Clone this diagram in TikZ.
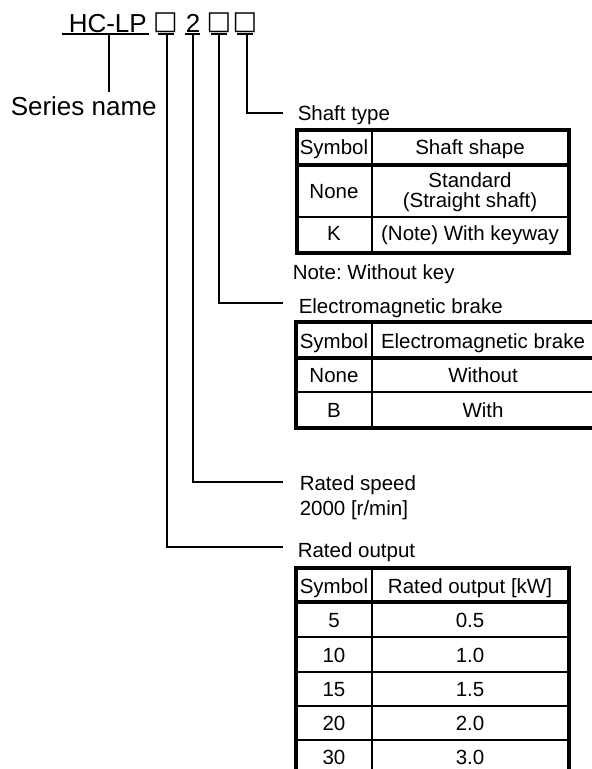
\documentclass[tikz,border=0pt]{standalone}
\usepackage{fontspec}
\setmainfont{Liberation Sans}
\newfontfamily\symfont{DejaVu Sans}
\frenchspacing
\begin{document}
\begin{tikzpicture}[x=1pt,y=-1pt,line width=1.5pt,
  txt/.style={anchor=base west,inner sep=0pt,font=\fontsize{20.5}{20}\selectfont},
  cell/.style={anchor=base,inner sep=0pt,align=center,font=\fontsize{20.5}{20}\selectfont},
  ttl/.style={anchor=base west,inner sep=0pt,font=\fontsize{26}{30}\selectfont},
  sq/.style={anchor=center,inner sep=0pt,font=\symfont\fontsize{26}{28}\selectfont},
  outer/.style={line width=4pt},
  inner/.style={line width=1.6pt},
  conn/.style={line width=1.5pt}]
\clip (0,0) rectangle (592,769);
\fill[white] (0,0) rectangle (592,769);

% title
\node[ttl] (hclp) at (68,32) {HC-LP};
\node[sq] (sqa) at (165.5,22.5) {□};
\node[ttl] (two) at (185,32) {2};
\node[sq] (sqb) at (219,22.5) {□};
\node[sq] (sqc) at (245,22.5) {□};

% underlines
\coordinate (ha) at (62,34); \coordinate (hb) at (149,34);
\coordinate (aa) at (158,34); \coordinate (ab) at (174,34);
\coordinate (ta) at (185,34); \coordinate (tb) at (200,34);
\coordinate (ba) at (211,34); \coordinate (bb) at (227,34);
\coordinate (ca) at (237,34); \coordinate (cb) at (253,34);
\draw[conn] (ha) -- (hb);
\draw[conn] (aa) -- (ab);
\draw[conn] (ta) -- (tb);
\draw[conn] (ba) -- (bb);
\draw[conn] (ca) -- (cb);

% connectors
\coordinate (s0) at (109,34); \coordinate (s1) at (109,92);
\coordinate (a0) at (167,34); \coordinate (a1) at (283,547);
\coordinate (t0) at (193,34); \coordinate (t1) at (283,482);
\coordinate (b0) at (219,34); \coordinate (b1) at (283,303);
\coordinate (c0) at (247,34); \coordinate (c1) at (283,113);
\draw[conn] (s0) -- (s1);
\draw[conn] (a0) |- (a1);
\draw[conn] (t0) |- (t1);
\draw[conn] (b0) |- (b1);
\draw[conn] (c0) |- (c1);

% labels
\node[ttl] (series) at (10,115) {Series name};
\node[txt] (shaft) at (297,120) {Shaft type};
\node[txt] (note) at (292,279) {Note: Without key};
\node[txt] (brake) at (298,313) {Electromagnetic brake};
\node[txt] (speed) at (299,490) {Rated speed};
\node[txt] (speedv) at (299,515) {2000 [r/min]};
\node[txt] (output) at (297,557) {Rated output};

% table 1: shaft
\draw[inner] (372,130) -- (372,253);
\draw[inner] (297,217) -- (569,217);
\draw[outer] (297,164.5) -- (569,164.5);
\draw[outer] (297,130) rectangle (569,253);
\node[cell] (t1h1) at (334,154.5) {Symbol};
\node[cell] (t1h2) at (470,154.5) {Shaft shape};
\node[cell] (t1r1a) at (334,198) {None};
\node[cell] (t1r1b) at (470,207) {Standard\\(Straight shaft)};
\node[cell] (t1r2a) at (334,240) {K};
\node[cell] (t1r2b) at (470,240) {(Note) With keyway};

% table 2: brake
\draw[inner] (372,322) -- (372,428);
\draw[inner] (296,392) -- (600,392);
\draw[outer] (296,358) -- (600,358);
\draw[outer] (296,322) rectangle (596,428);
\node[cell] (t2h1) at (334,348) {Symbol};
\node[cell] (t2h2) at (483,348) {Electromagnetic brake};
\node[cell] (t2r1a) at (334,382) {None};
\node[cell] (t2r1b) at (483,382) {Without};
\node[cell] (t2r2a) at (334,417) {B};
\node[cell] (t2r2b) at (483,417) {With};

% table 3: output
\draw[inner] (372,568) -- (372,780);
\foreach \yy in {637,672,706,740} \draw[inner] (296,\yy) -- (569,\yy);
\draw[outer] (296,601.5) -- (569,601.5);
\draw[outer] (296,780) -- (296,568) -- (569,568) -- (569,780);
\node[cell] (t3h1) at (334,593) {Symbol};
\node[cell] (t3h2) at (470,593) {Rated output [kW]};
\node[cell] (t3a1) at (334,627.5) {5};
\node[cell] (t3b1) at (470,627.5) {0.5};
\node[cell] (t3a2) at (334,662) {10};
\node[cell] (t3b2) at (470,662) {1.0};
\node[cell] (t3a3) at (334,696.5) {15};
\node[cell] (t3b3) at (470,696.5) {1.5};
\node[cell] (t3a4) at (334,730.5) {20};
\node[cell] (t3b4) at (470,730.5) {2.0};
\node[cell] (t3a5) at (334,764) {30};
\node[cell] (t3b5) at (470,764) {3.0};
\end{tikzpicture}
\end{document}
